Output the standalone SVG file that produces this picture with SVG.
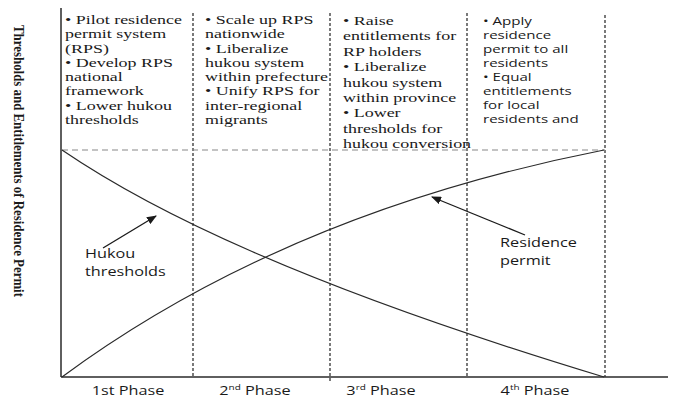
<svg xmlns="http://www.w3.org/2000/svg" width="674" height="398" viewBox="0 0 674 398">
<style>
.serif{font-family:"Liberation Serif","Times New Roman",serif;font-size:13.5px;fill:#1a1a1a}
.sans{font-family:"Open Sans","DejaVu Sans",sans-serif;font-size:11px;fill:#1a1a1a}
.lbl{font-family:"Open Sans","DejaVu Sans",sans-serif;font-size:13px;fill:#1a1a1a}
.axis{stroke:#2a2a2a;stroke-width:1.5;fill:none}
.vdash{stroke:#333;stroke-width:1.3;stroke-dasharray:3 2;fill:none}
.hdash{stroke:#888;stroke-width:1.2;stroke-dasharray:6 4;fill:none}
.curve{stroke:#2a2a2a;stroke-width:1.2;fill:none}
.arrow{stroke:#1a1a1a;stroke-width:1.3;fill:none;marker-end:url(#ah)}
</style>
<defs>
<marker id="ah" markerWidth="10" markerHeight="8" refX="9" refY="4" orient="auto" markerUnits="userSpaceOnUse">
<path d="M0,0 L10,4 L0,8 Z" fill="#1a1a1a"/>
</marker>
</defs>
<rect width="674" height="398" fill="#fff"/>
<g id="y-label">
<text class="serif" style="font-weight:bold;font-size:14px" transform="translate(14,161) rotate(90)" text-anchor="middle" textLength="272" lengthAdjust="spacingAndGlyphs">Thresholds and Entitlements of Residence Permit</text>
</g>
<g id="axes">
<line class="axis" x1="61" y1="8" x2="61" y2="377"/>
<line class="axis" x1="61" y1="377" x2="668" y2="377"/>
</g>
<g id="connectors">
<line class="vdash" x1="193" y1="13" x2="193" y2="377"/>
<line class="vdash" x1="330" y1="13" x2="330" y2="382"/>
<line class="vdash" x1="467" y1="13" x2="467" y2="377"/>
<line class="vdash" x1="605" y1="15" x2="605" y2="377"/>
<line class="hdash" x1="62" y1="150" x2="605" y2="150"/>
<path id="hukou-curve" class="curve" d="M62,150 C150,210 300,285 604,377"/>
<path id="rp-curve" class="curve" d="M62,377 C180,290 350,200 604,150"/>
<line class="arrow" x1="103" y1="248" x2="156" y2="216"/>
<line class="arrow" x1="525" y1="235" x2="432" y2="197"/>
</g>
<g id="phase1-box" transform="translate(65,0) scale(1.33,1)">
<text class="serif" x="0" y="24">• Pilot residence</text>
<text class="serif" x="0" y="38.3">permit system</text>
<text class="serif" x="0" y="52.6">(RPS)</text>
<text class="serif" x="0" y="66.9">• Develop  RPS</text>
<text class="serif" x="0" y="81.2">national</text>
<text class="serif" x="0" y="95.5">framework</text>
<text class="serif" x="0" y="109.8">• Lower  hukou</text>
<text class="serif" x="0" y="124.1">thresholds</text>
</g>
<g id="phase2-box" transform="translate(205,0) scale(1.33,1)">
<text class="serif" x="0" y="24">• Scale up  RPS</text>
<text class="serif" x="0" y="38.3">nationwide</text>
<text class="serif" x="0" y="52.6">• Liberalize</text>
<text class="serif" x="0" y="66.9">hukou system</text>
<text class="serif" x="0" y="81.2">within prefecture</text>
<text class="serif" x="0" y="95.5">• Unify RPS for</text>
<text class="serif" x="0" y="109.8">inter-regional</text>
<text class="serif" x="0" y="124.1">migrants</text>
</g>
<g id="phase3-box" transform="translate(343,0) scale(1.33,1)">
<text class="serif" x="0" y="25">• Raise</text>
<text class="serif" x="0" y="40.4">entitlements for</text>
<text class="serif" x="0" y="55.8">RP holders</text>
<text class="serif" x="0" y="71.2">• Liberalize</text>
<text class="serif" x="0" y="86.6">hukou system</text>
<text class="serif" x="0" y="102">within province</text>
<text class="serif" x="0" y="117.4">•  Lower</text>
<text class="serif" x="0" y="132.8">thresholds for</text>
<text class="serif" x="0" y="148.2">hukou conversion</text>
</g>
<g id="phase4-box" transform="translate(483,0) scale(1.37,1)">
<text class="sans" x="0" y="25">• Apply</text>
<text class="sans" x="0" y="39">residence</text>
<text class="sans" x="0" y="53">permit to all</text>
<text class="sans" x="0" y="67">residents</text>
<text class="sans" x="0" y="81">• Equal</text>
<text class="sans" x="0" y="95">entitlements</text>
<text class="sans" x="0" y="109">for local</text>
<text class="sans" x="0" y="123">residents and</text>
</g>
<g id="hukou-label" transform="translate(85,0) scale(1.25,1)">
<text class="lbl" x="0" y="258">Hukou</text>
<text class="lbl" x="0" y="276">thresholds</text>
</g>
<g id="rp-label" transform="translate(500,0) scale(1.25,1)">
<text class="lbl" x="0" y="247">Residence</text>
<text class="lbl" x="0" y="265">permit</text>
</g>
<g id="phase-labels">
<g transform="translate(128,0) scale(1.25,1)"><text class="lbl" x="0" y="395" text-anchor="middle">1st Phase</text></g>
<g transform="translate(255,0) scale(1.25,1)"><text class="lbl" x="0" y="395" text-anchor="middle">2<tspan font-size="8" dy="-5">nd</tspan><tspan dy="5"> Phase</tspan></text></g>
<g transform="translate(381,0) scale(1.25,1)"><text class="lbl" x="0" y="395" text-anchor="middle">3<tspan font-size="8" dy="-5">rd</tspan><tspan dy="5"> Phase</tspan></text></g>
<g transform="translate(535,0) scale(1.25,1)"><text class="lbl" x="0" y="395" text-anchor="middle">4<tspan font-size="8" dy="-5">th</tspan><tspan dy="5"> Phase</tspan></text></g>
</g>
</svg>
